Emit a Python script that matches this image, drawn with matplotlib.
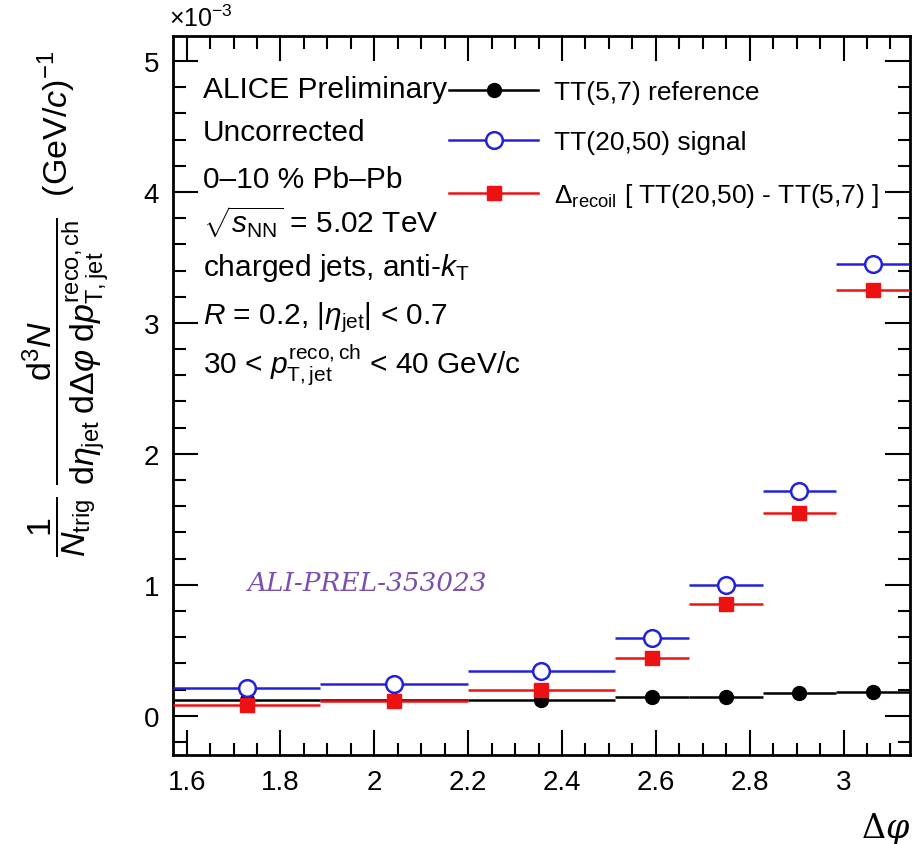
import numpy as np
import matplotlib
matplotlib.use('Agg')
import matplotlib.pyplot as plt
from matplotlib.ticker import MultipleLocator
from matplotlib.lines import Line2D

plt.rcParams['font.family'] = ['Liberation Sans', 'DejaVu Sans']
plt.rcParams['mathtext.fontset'] = 'custom'
plt.rcParams['mathtext.rm'] = 'Liberation Sans'
plt.rcParams['mathtext.it'] = 'Liberation Sans:italic'
plt.rcParams['mathtext.bf'] = 'Liberation Sans:bold'

# bin edges in delta phi
edges = [np.pi/2, np.pi/2+np.pi/10, np.pi/2+2*np.pi/10, np.pi/2+3*np.pi/10,
         np.pi/2+7*np.pi/20, np.pi/2+8*np.pi/20, np.pi/2+9*np.pi/20, np.pi]
# values in units of 1e-3
ref_tt57 = [0.12, 0.12, 0.12, 0.14, 0.14, 0.17, 0.18]
sig_tt2050 = [0.21, 0.24, 0.34, 0.59, 1.00, 1.72, 3.45]
delta_recoil = [0.08, 0.11, 0.20, 0.44, 0.85, 1.55, 3.25]

edges = np.array(edges)
xc = 0.5*(edges[1:]+edges[:-1])
xe = 0.5*(edges[1:]-edges[:-1])

blue = '#2222dd'
red = '#ee1111'

fig = plt.figure(figsize=(9.15, 8.45), dpi=100)
ax = fig.add_axes([0.189, 0.1053, 0.8055, 0.8507])

ax.errorbar(xc, ref_tt57, xerr=xe, fmt='o', color='black', ms=10, elinewidth=1.8,
            capsize=0, zorder=3)
ax.errorbar(xc, sig_tt2050, xerr=xe, fmt='o', color=blue, mfc='white', mec=blue,
            mew=1.8, ms=12, elinewidth=1.8, capsize=0, zorder=5)
ax.errorbar(xc, delta_recoil, xerr=xe, fmt='s', color=red, ms=10, elinewidth=1.8,
            capsize=0, zorder=4)

ax.set_xlim(np.pi/2, np.pi)
ax.set_ylim(-0.3, 5.19)
ax.xaxis.set_major_locator(MultipleLocator(0.2))
ax.xaxis.set_minor_locator(MultipleLocator(0.05))
ax.yaxis.set_major_locator(MultipleLocator(1))
ax.yaxis.set_minor_locator(MultipleLocator(0.2))
ax.tick_params(which='both', direction='in', top=True, right=True, width=1.5)
ax.tick_params(which='major', length=18, labelsize=20, pad=10)
ax.tick_params(which='minor', length=9)
for s in ax.spines.values():
    s.set_linewidth(2)
ax.set_xticks([1.6, 1.8, 2.0, 2.2, 2.4, 2.6, 2.8, 3.0])
ax.set_xticklabels(['1.6', '1.8', '2', '2.2', '2.4', '2.6', '2.8', '3'])

fig.text(0.185, 0.962, r'$\times10^{-3}$', fontsize=18, ha='left', va='bottom')
fig.text(0.995, -0.002, r'$\Delta\varphi$', fontsize=24, ha='right', va='bottom',
         family='DejaVu Serif', math_fontfamily='dejavuserif')

ylab = (r'$\dfrac{1}{N_{\rm trig}}\ \dfrac{{\rm d}^3N}{{\rm d}\eta_{\rm jet}\;{\rm d}\Delta\varphi\;'
        r'{\rm d}p^{\rm reco,ch}_{\rm T,jet}}$  (GeV/$c$)$^{-1}$')
fig.text(0.072, 0.64, ylab, rotation=90, fontsize=24.5, ha='center', va='center')

lines = ['ALICE Preliminary', 'Uncorrected', '0\u201310 % Pb\u2013Pb',
         r'$\sqrt{s_{\rm NN}}$ = 5.02 TeV', r'charged jets, anti-$k_{\rm T}$',
         r'$R$ = 0.2, |$\eta_{\rm jet}$| < 0.7', r'30 < $p^{\rm reco,ch}_{\rm T,jet}$ < 40 GeV/c']
ys = [0.893, 0.843, 0.787, 0.737, 0.683, 0.624, 0.567]
for t, y in zip(lines, ys):
    fig.text(0.222, y, t, fontsize=21.5, ha='left', va='center')

handles = [
    Line2D([], [], color='black', lw=1.8, marker='o', ms=10),
    Line2D([], [], color=blue, lw=1.8, marker='o', ms=12, mfc='white', mew=1.8),
    Line2D([], [], color=red, lw=1.8, marker='s', ms=10),
]
labels = ['TT(5,7) reference', 'TT(20,50) signal',
          r'$\Delta_{\rm recoil}$ [ TT(20,50) - TT(5,7) ]']
ax.legend(handles, labels, loc='upper left', bbox_to_anchor=(0.342, 0.972), frameon=False,
          fontsize=19, handlelength=3.4, labelspacing=1.0, handletextpad=0.6)

fig.text(0.27, 0.31, 'ALI-PREL-353023', fontsize=19, style='italic', color='#7b4fb0',
         family='DejaVu Serif', ha='left', va='center')

fig.savefig('out.png', dpi=100)
